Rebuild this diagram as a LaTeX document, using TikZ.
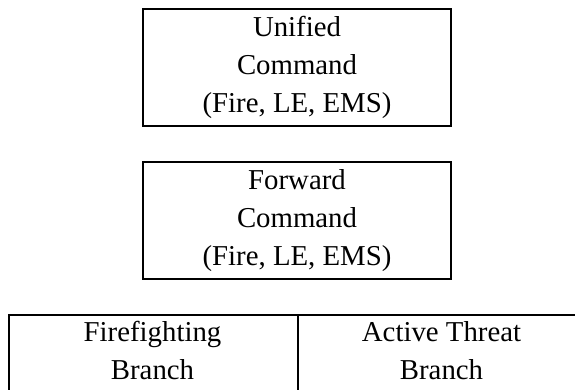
\documentclass[tikz,border=0pt]{standalone}
\usepackage{fontspec}
\setmainfont{Liberation Serif}
\begin{document}
\begin{tikzpicture}[x=1pt,y=-1pt,
  txt/.style={font=\fontsize{28.8pt}{38pt}\selectfont, align=center, inner sep=0pt},
  cmdbox/.style={txt, draw=black, line width=2pt, minimum width=308pt, minimum height=117pt},
  cellbox/.style={draw=black, line width=2pt, minimum width=289pt, minimum height=140pt, anchor=north west, inner sep=0pt}]
\useasboundingbox (0,0) rectangle (575,389);
\clip (0,0) rectangle (575,389);
\node[cmdbox] (uc) at (297,67.5) {Unified\\Command\\(Fire, LE, EMS)};
\node[cmdbox] (fc) at (297,220.5) {Forward\\Command\\(Fire, LE, EMS)};
\node[cellbox] (ffbox) at (8,314) {};
\node[cellbox] (atbox) at (297,314) {};
\node[txt, anchor=base] (fftext) at (152.5,379) {Firefighting\\Branch};
\node[txt, anchor=base] (attext) at (441.5,379) {Active Threat\\Branch};
\end{tikzpicture}
\end{document}
